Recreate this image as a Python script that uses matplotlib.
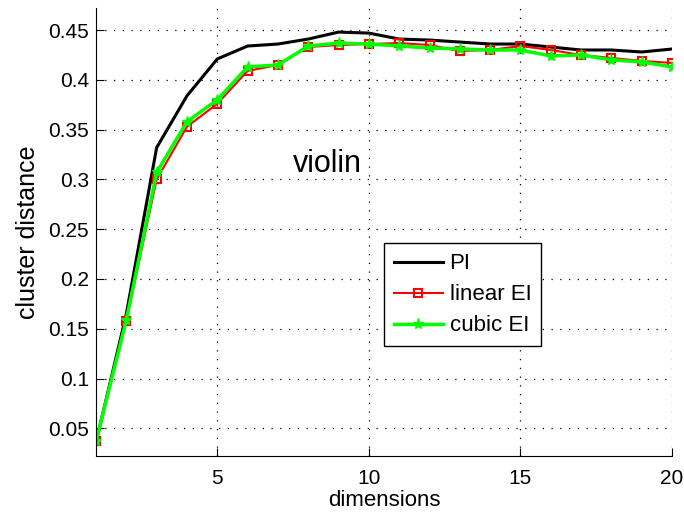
import matplotlib.pyplot as plt
import numpy as np

plt.rcParams['font.family'] = ['Liberation Sans', 'DejaVu Sans']

dims = np.arange(1, 21)
pi_vals = [0.036, 0.165, 0.332, 0.384, 0.421, 0.434, 0.436, 0.441, 0.448, 0.447,
           0.441, 0.440, 0.438, 0.436, 0.436, 0.433, 0.430, 0.430, 0.428, 0.431]
linear_ei = [0.037, 0.158, 0.300, 0.353, 0.376, 0.409, 0.415, 0.433, 0.435, 0.436,
             0.437, 0.435, 0.429, 0.430, 0.434, 0.430, 0.425, 0.422, 0.419, 0.417]
cubic_ei = [0.037, 0.159, 0.307, 0.358, 0.380, 0.413, 0.415, 0.434, 0.437, 0.436,
            0.434, 0.432, 0.431, 0.430, 0.430, 0.424, 0.425, 0.420, 0.418, 0.413]

fig = plt.figure(figsize=(6.84, 5.12), dpi=100)
ax = fig.add_axes([0.1404, 0.109, 0.8421, 0.875])

ax.plot(dims, pi_vals, color='black', lw=2.2, label='PI')
ax.plot(dims, linear_ei, color='red', lw=1.5, marker='s', ms=6, mfc='none',
        mew=1.5, label='linear EI')
ax.plot(dims, cubic_ei, color='#00ff00', lw=2.5, marker='*', ms=8, label='cubic EI')

ax.set_xlim(1, 20)
ax.set_ylim(0.022, 0.472)
ax.set_xticks([5, 10, 15, 20])
ax.set_yticks([0.05, 0.1, 0.15, 0.2, 0.25, 0.3, 0.35, 0.4, 0.45])
ax.set_yticklabels(['0.05', '0.1', '0.15', '0.2', '0.25', '0.3', '0.35', '0.4', '0.45'])
ax.tick_params(direction='in', labelsize=15, length=6)
ax.tick_params(axis='x', pad=9)
ax.tick_params(axis='y', pad=5)
ax.spines['top'].set_visible(False)
ax.spines['right'].set_visible(False)
ax.grid(True, color='black', linestyle=(0, (1, 6)), lw=0.9)

ax.set_xlabel('dimensions', fontsize=16, labelpad=2)
ax.set_ylabel('cluster distance', fontsize=18, labelpad=6)
ax.text(7.5, 0.315, 'violin', fontsize=22, va='center', ha='left')

leg = ax.legend(loc='lower left', bbox_to_anchor=(0.5, 0.245), fontsize=16,
                fancybox=False, framealpha=1, edgecolor='black',
                handlelength=2.2, handletextpad=0.3, borderpad=0.45,
                labelspacing=0.45, borderaxespad=0)
leg.get_frame().set_linewidth(1)

fig.savefig('out.png')
